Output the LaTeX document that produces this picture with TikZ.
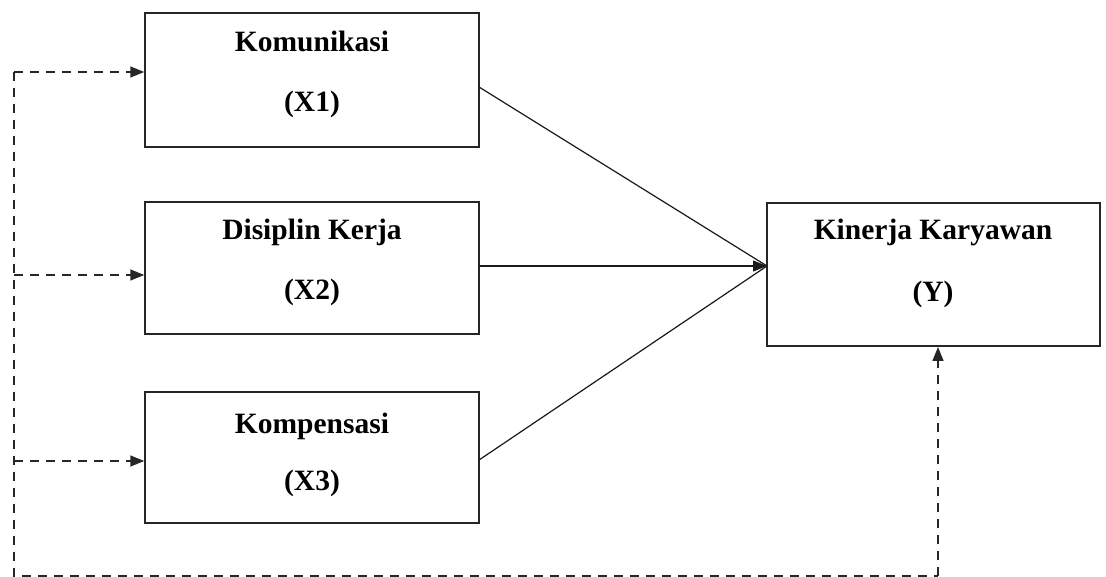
\documentclass[tikz,border=0pt]{standalone}
\usepackage{fontspec}
\setmainfont{Liberation Serif}
\usetikzlibrary{arrows.meta}
\begin{document}
\begin{tikzpicture}[x=1pt,y=-1pt,
  box/.style={draw=black!85, line width=1.5pt, inner sep=0pt},
  lbl/.style={font=\fontsize{29.5}{30}\selectfont\bfseries, inner sep=0pt, anchor=base},
  link/.style={draw=black!90, line width=1.2pt},
  tip/.style={-{Triangle[length=14pt,width=11pt]}},
  dlink/.style={draw=black!85, line width=1.5pt, dash pattern=on 9pt off 7pt}
]
\useasboundingbox (0,0) rectangle (1106,577);
\fill[white] (0,0) rectangle (1106,577);

% boxes
\node[box, minimum width=334pt, minimum height=134pt] (x1) at (312,80) {};
\node[box, minimum width=334pt, minimum height=132pt] (x2) at (312,268) {};
\node[box, minimum width=334pt, minimum height=131pt] (x3) at (312,457.5) {};
\node[box, minimum width=333pt, minimum height=143pt] (y) at (933.5,274.5) {};

% labels
\node[lbl] (x1a) at (312,52) {Komunikasi};
\node[lbl] (x1b) at (312,112) {(X1)};
\node[lbl] (x2a) at (312,240) {Disiplin Kerja};
\node[lbl] (x2b) at (312,300) {(X2)};
\node[lbl] (x3a) at (312,433) {Kompensasi};
\node[lbl] (x3b) at (312,490) {(X3)};
\node[lbl] (ya) at (933,240) {Kinerja Karyawan};
\node[lbl] (yb) at (933,302) {(Y)};

% solid connectors
\coordinate (yin) at (767,266);
\coordinate (o1) at (479,87);
\coordinate (o2) at (479,266);
\coordinate (o3) at (479,460);
\draw[link] (o1) -- (yin);
\draw[link] (o3) -- (yin);
\draw[link, tip] (o2) -- (yin);

% dashed feedback lines
\coordinate (l1) at (14,72);
\coordinate (l2) at (14,275);
\coordinate (l3) at (14,461);
\coordinate (lb) at (14,576);
\coordinate (rb) at (938,576);
\coordinate (yt) at (938,347);
\draw[dlink] (l1) -- (lb) -- (rb);
\draw[dlink, tip] (rb) -- (yt);
\draw[dlink, tip] (l1) -- (l1 -| x1.west);
\draw[dlink, tip] (l2) -- (l2 -| x2.west);
\draw[dlink, tip] (l3) -- (l3 -| x3.west);
\end{tikzpicture}
\end{document}
